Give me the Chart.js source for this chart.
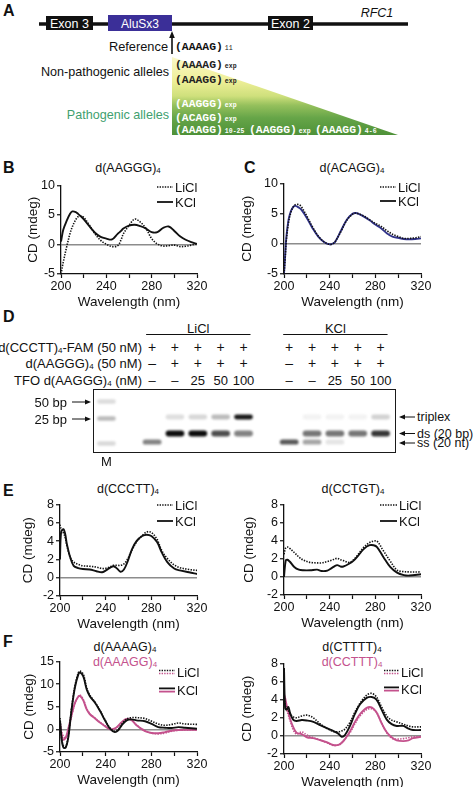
<!DOCTYPE html>
<html>
<head>
<meta charset="utf-8">
<script src="https://cdn.jsdelivr.net/npm/chart.js@4.4.1/dist/chart.umd.min.js"></script>
<style>
html, body { margin: 0; padding: 0; background: #fff; }
body { width: 474px; height: 787px; position: relative; overflow: hidden; font-family: "Liberation Sans", Arial, sans-serif; color: #111; }
.t { position: absolute; white-space: nowrap; line-height: 1; font-size: 13px; }
.lbl { font-weight: bold; font-size: 16px; }
canvas { position: absolute; }
sub { font-size: 8px; vertical-align: -1px; line-height: 0; }
#gelBox { position: absolute; left: 93px; top: 389px; width: 303px; height: 64px; border: 1.6px solid #1a1a1a; box-sizing: border-box; }
</style>
</head>
<body>
<svg id="diagram" width="474" height="140" style="position:absolute;left:0;top:0" font-family="Liberation Sans, Arial, sans-serif">
  <defs>
    <linearGradient id="tri" x1="0" y1="0" x2="0" y2="1">
      <stop offset="0" stop-color="#faf8c8"/>
      <stop offset="0.3" stop-color="#efef98"/>
      <stop offset="0.5" stop-color="#cfe07c"/>
      <stop offset="0.62" stop-color="#95c05c"/>
      <stop offset="0.78" stop-color="#66a548"/>
      <stop offset="1" stop-color="#4e9138"/>
    </linearGradient>
  </defs>
  <text x="3" y="16" font-size="16" font-weight="bold" fill="#111">A</text>
  <line x1="39" y1="24" x2="408" y2="24" stroke="#111" stroke-width="3.5"/>
  <rect x="46" y="16" width="47" height="14" fill="#111"/>
  <text x="69.5" y="28" font-size="12.5" fill="#fff" text-anchor="middle">Exon 3</text>
  <rect x="108" y="15" width="64" height="16" fill="#3b2f98"/>
  <text x="140" y="28" font-size="12" fill="#fff" text-anchor="middle">AluSx3</text>
  <rect x="268" y="16" width="45" height="14" fill="#111"/>
  <text x="290.5" y="28" font-size="12.5" fill="#fff" text-anchor="middle">Exon 2</text>
  <text x="377" y="16.5" font-size="12.5" font-style="italic" fill="#111" text-anchor="middle">RFC1</text>
  <line x1="172" y1="54" x2="172" y2="36" stroke="#111" stroke-width="1.6"/>
  <polygon points="172,31 169.2,38 174.8,38" fill="#111"/>
  <text x="168" y="50.5" font-size="12.8" fill="#111" text-anchor="end">Reference</text>
  <text x="175" y="50" font-size="11.4" font-weight="bold" font-family="Liberation Mono, Courier New, monospace" fill="#111">(AAAAG)<tspan font-size="6.5" dx="2" font-weight="normal">11</tspan></text>
  <polygon points="172,57 172,135 398,135" fill="url(#tri)"/>
  <text x="169" y="75.5" font-size="12.6" fill="#111" text-anchor="end">Non-pathogenic alleles</text>
  <text x="169" y="118.5" font-size="12.6" fill="#3f9f6f" text-anchor="end">Pathogenic alleles</text>
  <g font-family="Liberation Mono, Courier New, monospace" font-weight="bold" font-size="11.4">
    <text x="175" y="68" fill="#222">(AAAAG)<tspan font-size="6.5" dx="2">exp</tspan></text>
    <text x="175" y="83" fill="#222">(AAAGG)<tspan font-size="6.5" dx="2">exp</tspan></text>
    <text x="175" y="107" fill="#fff">(AAGGG)<tspan font-size="6.5" dx="2">exp</tspan></text>
    <text x="175" y="121" fill="#fff">(ACAGG)<tspan font-size="6.5" dx="2">exp</tspan></text>
    <text x="175" y="132.5" fill="#fff">(AAAGG)<tspan font-size="6.5" dx="2">10-25</tspan></text>
    <text x="249" y="132.5" fill="#fff">(AAGGG)<tspan font-size="6.5" dx="2">exp</tspan></text>
    <text x="315" y="132.5" fill="#fff">(AAAGG)<tspan font-size="6.5" dx="2">4-6</tspan></text>
  </g>
</svg>
<div id="gelBox"></div>

<script>
const $ = (id) => document.getElementById(id);
Chart.defaults.font.family = '"Liberation Sans", Arial, sans-serif';
Chart.defaults.color = '#111';

const INK = '#111', PINK = '#c4528d', NAVY = '#31338a';

// ----- B: d(AAGGG)4 -----
const wlB = [200, 202, 205, 208, 210, 213, 215, 218, 220, 225, 230, 235, 240, 245, 250, 253, 255, 260, 265, 270, 275, 280, 285, 290, 295, 300, 305, 310, 315, 320];
const bLiCl = [-5, -3, -0.4, 1.9, 3.0, 4.2, 4.7, 4.8, 4.6, 3.3, 1.8, 0.7, 0.05, -0.35, -0.2, 0.8, 1.8, 3.2, 4.3, 3.8, 2.7, 1.0, 0.1, -0.25, -0.2, -0.1, -0.35, -0.3, -0.1, 0.15];
const bKCl = [0.5, 2.5, 4.0, 5.2, 5.6, 5.5, 5.2, 4.7, 4.3, 3.1, 2.0, 1.3, 1.0, 0.85, 1.8, 2.3, 2.7, 3.2, 3.35, 3.1, 2.7, 2.1, 2.1, 2.8, 3.05, 2.3, 1.4, 0.8, 0.4, 0.1];

// ----- C: d(ACAGG)4 -----
const wlC = [200, 201, 202, 204, 206, 208, 210, 213, 215, 220, 225, 230, 235, 240, 243, 245, 250, 255, 260, 263, 265, 270, 275, 280, 285, 290, 295, 300, 305, 310, 315, 320];
const cLiCl = [-5, -2.5, 0.5, 3.6, 5.2, 6.1, 6.5, 6.5, 6.2, 4.6, 2.8, 1.3, 0.35, -0.1, 0.05, 0.4, 2.1, 3.9, 4.9, 5.1, 5.0, 4.6, 4.0, 3.4, 2.9, 2.2, 1.6, 1.2, 0.9, 0.9, 1.0, 1.2];
const cKCl = [-5, -2, 1.0, 4.0, 5.4, 6.1, 6.3, 6.0, 5.7, 4.3, 2.6, 1.2, 0.3, -0.1, 0.05, 0.4, 2.2, 4.0, 5.0, 5.1, 5.0, 4.5, 3.9, 3.2, 2.6, 1.75, 1.2, 1.0, 0.8, 0.75, 0.8, 0.9];

// ----- E left: d(CCCTT)4 -----
const wlE1 = [200, 201, 203, 204.5, 206, 209, 212, 216, 220, 226, 232, 237, 241, 244, 247, 250, 253, 256, 259, 263, 267, 272, 276, 280, 285, 289, 294, 300, 305, 313, 320];
const e1LiCl = [5.8, 5.3, 4.9, 4.4, 3.5, 2.2, 1.7, 1.45, 1.3, 1.25, 1.15, 1.0, 1.05, 1.2, 1.35, 1.35, 1.35, 1.5, 2.0, 3.0, 3.9, 4.6, 5.0, 4.95, 4.2, 3.0, 2.1, 1.4, 1.1, 0.9, 0.8];
const e1KCl = [2.0, 5.0, 5.3, 4.8, 3.7, 2.2, 1.3, 1.05, 0.95, 0.9, 0.7, 0.6, 0.85, 1.1, 1.25, 1.0, 0.65, 0.9, 1.7, 3.1, 4.0, 4.55, 4.7, 4.55, 3.9, 2.8, 1.7, 1.0, 0.8, 0.6, 0.4];

// ----- E right: d(CCTGT)4 -----
const wlE2 = [200, 201.5, 203, 205, 209, 213, 217, 223, 229, 233, 238, 242, 246.5, 249.5, 252, 257, 261, 265, 270, 275, 278.5, 281.5, 287, 293, 299, 305, 310, 320];
const e2LiCl = [2.5, 3.2, 3.3, 3.15, 2.7, 2.2, 1.85, 1.6, 1.55, 1.55, 1.7, 1.85, 2.05, 1.9, 1.8, 1.6, 1.9, 2.5, 3.3, 3.8, 3.95, 3.95, 2.9, 1.75, 0.75, 0.58, 0.55, 0.55];
const e2KCl = [0, 1.8, 1.9, 1.7, 1.1, 0.8, 0.73, 0.73, 0.8, 0.65, 0.7, 1.0, 1.3, 1.15, 1.15, 1.45, 1.8, 2.35, 3.1, 3.5, 3.5, 3.3, 2.2, 1.1, 0.47, 0.2, 0.15, 0.3];

// ----- F left: d(AAAAG)4 (black) / d(AAAGG)4 (pink) -----
const wlF1 = [200, 201.5, 203, 205, 207.3, 210, 213, 216, 217.5, 220.4, 223.4, 226, 230.7, 235, 239.4, 243.8, 248, 251, 254, 258.4, 262.8, 267, 274.5, 280.3, 286, 292, 297.8, 303.7, 309.5, 320];
const f1AgLiCl = [2.5, -2.0, -3.6, -3.8, -1.5, 4.3, 9.5, 12.5, 12.9, 12.2, 9.2, 7.6, 6.0, 4.2, 2.1, 0.3, -0.4, 0, 1.1, 2.3, 2.6, 2.6, 2.4, 1.8, 1.2, 0.9, 1.1, 1.4, 1.2, 1.1];
const f1AgKCl = [2.0, -2.4, -4.0, -4.0, -1.7, 4.1, 9.2, 12.1, 12.6, 11.7, 8.8, 7.4, 5.9, 4.1, 2.0, 0.15, -0.6, -0.2, 0.9, 2.0, 2.2, 2.0, 1.8, 1.2, 0.5, 0.36, 0.3, 0.5, 0.36, 0.15];
const f1GgLiCl = [0.5, -0.6, -1.5, -2.0, -0.3, 2.8, 5.7, 7.3, 7.6, 6.6, 4.6, 3.5, 2.5, 1.6, 0.8, 0.1, 0.1, 0.7, 1.5, 2.3, 2.2, 1.0, -0.3, -0.8, -1.0, -0.8, -0.4, -0.2, -0.15, -0.1];
const f1GgKCl = [1.6, -1.3, -2.3, -1.8, 0.2, 3.0, 5.8, 7.2, 7.4, 6.4, 4.4, 3.4, 2.4, 1.5, 0.7, 0, 0.2, 0.8, 1.6, 2.3, 2.0, 0.9, -0.4, -0.8, -0.85, -0.6, -0.3, -0.15, -0.1, -0.1];

// ----- F right: d(CTTTT)4 (black) / d(CCTTT)4 (pink) -----
const wlF2 = [200, 201, 202.3, 203.8, 205.3, 208, 211, 215.5, 220, 225.7, 231.5, 237.4, 243, 247.6, 250.5, 253.4, 257.8, 262, 266.6, 272.4, 276.8, 281, 285.5, 290, 294.3, 298.7, 304.5, 309, 313, 320];
const f2TLiCl = [4.5, 3.5, 3.0, 2.8, 2.4, 2.1, 2.0, 2.2, 2.3, 2.0, 1.35, 0.85, 0.5, 0.45, 0.55, 0.75, 1.5, 2.6, 3.6, 4.5, 4.7, 4.3, 3.2, 2.2, 1.75, 1.55, 1.3, 1.1, 1.0, 1.0];
const f2TKCl = [7.5, 3.1, 2.9, 3.2, 2.55, 1.8, 1.65, 1.75, 1.7, 1.55, 1.2, 0.85, 0.55, 0.25, -0.1, 0.1, 1.1, 2.4, 3.5, 4.2, 4.3, 4.0, 2.9, 1.8, 1.3, 1.1, 1.1, 0.8, 0.65, 0.65];
const f2CLiCl = [4.0, 3.6, 2.9, 2.3, 1.7, 0.7, 0.2, 0.45, 0.1, -0.2, -0.45, -0.75, -1.05, -1.0, -0.8, -0.35, 0.35, 1.3, 2.2, 2.9, 3.0, 2.6, 1.4, 0.35, -0.25, -0.35, -0.3, -0.2, -0.1, -0.1];
const f2CKCl = [4.6, 4.2, 3.4, 2.7, 1.9, 1.0, 0.35, 0.2, -0.15, -0.25, -0.45, -0.7, -1.0, -1.0, -0.75, -0.35, 0.5, 1.5, 2.4, 3.1, 3.15, 2.6, 1.4, 0.4, -0.15, -0.5, -0.58, -0.5, -0.25, -0.1];

// ----- D: gel -----
const gelLanes = ['M', '', 'L1', 'L2', 'L3', 'L4', 'L5', '', 'K1', 'K2', 'K3', 'K4', 'K5'];
const triplexInt = [0, 0, 0, 0.11, 0.14, 0.26, 0.95, 0, 0, 0.025, 0.025, 0.025, 0.16];
const dsInt = [0, 0, 0, 1, 1, 0.72, 0.5, 0, 0, 0.55, 0.55, 0.55, 0.82];
const ssInt = [0, 0, 0.5, 0, 0, 0, 0, 0, 0.68, 0.35, 0.08, 0, 0];
const markerInt = [0.12, 0.26, 0.13];         // 50 bp, 25 bp, lowest marker band
const markerMig = [10.5, 27.5, 52.5];         // migration (arbitrary units, 0 = well)
const triplexMig = 26, dsMig = 42.5, ssMig = 51;
const faRow = ['+', '+', '+', '+', '+'];
const agRow = ['–', '+', '+', '+', '+'];
const tfoRow = ['–', '–', '25', '50', '100'];

// ----- helpers -----
let art = '';
function put(x, y, html, align, cls, style) {
  const d = document.createElement('div');
  d.className = 't ' + (cls || '');
  d.innerHTML = html;
  d.style.left = x + 'px'; d.style.top = y + 'px';
  const tx = align === 'r' ? '-100%' : align === 'c' ? '-50%' : '0';
  d.style.transform = 'translate(' + tx + ',-50%)';
  if (style) Object.assign(d.style, style);
  document.body.appendChild(d);
}
function legend(x1, x2, yL, yK, cols) {
  const n = cols.length;
  cols.forEach((c, i) => {
    const off = n > 1 ? (i === 0 ? -1.6 : 1.6) : 0;
    art += `<line x1="${x1}" y1="${yL + off}" x2="${x2}" y2="${yL + off}" stroke="${c}" stroke-width="1.5" stroke-dasharray="1.4 1.2"/>`;
    art += `<line x1="${x1}" y1="${yK + off}" x2="${x2}" y2="${yK + off}" stroke="${c}" stroke-width="1.8"/>`;
  });
  put(x2 + 2, yL, 'LiCl', 'l', '', { fontSize: '13px' });
  put(x2 + 2, yK, 'KCl', 'l', '', { fontSize: '13px' });
}
function cdChart(p, titleX, yr, wl, series) {
  const left = titleX - 12, top = p.t - 8, right = p.r + 12, bottom = p.b + 36;
  const cv = document.createElement('canvas');
  cv.width = right - left; cv.height = bottom - top;
  cv.style.left = left + 'px'; cv.style.top = top + 'px';
  document.body.appendChild(cv);
  return new Chart(cv, {
    type: 'line',
    data: {
      datasets: series.map(s => ({
        data: wl.map((w, i) => ({ x: w, y: s.v[i] })),
        borderColor: s.c, borderWidth: s.dash ? 1.6 : 1.9,
        borderDash: s.dash ? [1.4, 1.3] : [],
        pointRadius: 0, tension: 0.35, fill: false
      }))
    },
    options: {
      responsive: false, animation: false, events: [],
      layout: { padding: { top: 8, right: 12, left: 0, bottom: 0 } },
      plugins: { legend: { display: false }, tooltip: { enabled: false } },
      scales: {
        x: {
          type: 'linear', min: 200, max: 320,
          afterFit: s => { s.height = 36; },
          ticks: { stepSize: 20, autoSkip: false, maxRotation: 0, padding: 1, font: { size: 12.5 }, callback: v => (v % 40 === 0 ? v : '') },
          grid: { drawOnChartArea: false, tickLength: 4, tickColor: INK, tickWidth: 1.2 },
          border: { color: INK, width: 1.3 },
          title: { display: true, text: 'Wavelength (nm)', font: { size: 13.5 }, padding: 0 }
        },
        y: {
          min: yr[0], max: yr[1],
          afterFit: s => { s.width = p.l - left; },
          ticks: { stepSize: yr[2], padding: 2, font: { size: 12.5 } },
          grid: {
            color: c => (c.tick && c.tick.value === 0 ? '#8c8c8c' : 'rgba(0,0,0,0)'),
            lineWidth: 1.5, tickLength: 4, tickColor: INK, tickWidth: 1.2
          },
          border: { color: INK, width: 1.3 },
          title: { display: true, text: 'CD (mdeg)', font: { size: 13.5 }, padding: { top: 4, bottom: 0 } }
        }
      }
    }
  });
}

// ----- panel letters and titles -----
put(3, 168, 'B', 'l', 'lbl');
put(244, 168, 'C', 'l', 'lbl');
put(3, 317, 'D', 'l', 'lbl');
put(3, 491, 'E', 'l', 'lbl');
put(3, 642, 'F', 'l', 'lbl');
put(128, 168, 'd(AAGGG)<sub>4</sub>', 'c', '', { fontSize: '12.5px' });
put(352, 168, 'd(ACAGG)<sub>4</sub>', 'c', '', { fontSize: '12.5px' });
put(128, 489, 'd(CCCTT)<sub>4</sub>', 'c', '', { fontSize: '12.5px' });
put(353, 489, 'd(CCTGT)<sub>4</sub>', 'c', '', { fontSize: '12.5px' });
put(125, 647, 'd(AAAAG)<sub>4</sub>', 'c', '', { fontSize: '12.5px' });
put(125, 662, 'd(AAAGG)<sub>4</sub>', 'c', '', { fontSize: '12.5px', color: PINK });
put(352, 647, 'd(CTTTT)<sub>4</sub>', 'c', '', { fontSize: '12.5px' });
put(352, 662, 'd(CCTTT)<sub>4</sub>', 'c', '', { fontSize: '12.5px', color: PINK });

// ----- CD charts -----
cdChart({ l: 61, r: 197, t: 184, b: 274 }, 33, [-5, 10, 5], wlB,
  [{ v: bLiCl, c: INK, dash: true }, { v: bKCl, c: INK }]);
cdChart({ l: 284, r: 421, t: 182, b: 274 }, 247, [-5, 10, 5], wlC,
  [{ v: cLiCl, c: INK, dash: true }, { v: cKCl, c: NAVY }]);
cdChart({ l: 60, r: 197, t: 503, b: 596 }, 28, [-2, 8, 2], wlE1,
  [{ v: e1LiCl, c: INK, dash: true }, { v: e1KCl, c: INK }]);
cdChart({ l: 284, r: 421, t: 503, b: 595 }, 249, [-2, 8, 2], wlE2,
  [{ v: e2LiCl, c: INK, dash: true }, { v: e2KCl, c: INK }]);
cdChart({ l: 60, r: 197, t: 660, b: 752 }, 29, [-5, 15, 5], wlF1,
  [{ v: f1AgLiCl, c: INK, dash: true }, { v: f1AgKCl, c: INK }, { v: f1GgLiCl, c: PINK, dash: true }, { v: f1GgKCl, c: PINK }]);
cdChart({ l: 284, r: 421, t: 662, b: 754 }, 247, [-2, 8, 2], wlF2,
  [{ v: f2TLiCl, c: INK, dash: true }, { v: f2TKCl, c: INK }, { v: f2CLiCl, c: PINK, dash: true }, { v: f2CKCl, c: PINK }]);

legend(157, 173, 187, 202, [INK]);
legend(380, 396, 187, 201, [INK]);
legend(157, 173, 505, 521, [INK]);
legend(380, 397, 505, 521, [INK]);
legend(159, 175, 672, 690, [INK, PINK]);
legend(384, 399, 672, 689, [INK, PINK]);

// ----- gel (floating bars) -----
const gray = (t) => { const v = Math.round(248 - 236 * t); return `rgb(${v},${v},${v})`; };
function bands(ints, mig, half) {
  return {
    data: ints.map(t => (t > 0 ? [mig - half, mig + half] : null)),
    backgroundColor: ints.map(gray)
  };
}
const gelCv = document.createElement('canvas');
gelCv.width = 297; gelCv.height = 62;
gelCv.style.left = '95px'; gelCv.style.top = '391px';
gelCv.style.filter = 'blur(0.8px)';
document.body.appendChild(gelCv);
const markerSets = markerMig.map((m, k) => bands(gelLanes.map((l, i) => (i === 0 ? markerInt[k] : 0)), m, 2.3));
const gel = new Chart(gelCv, {
  type: 'bar',
  data: {
    labels: gelLanes,
    datasets: [bands(triplexInt, triplexMig, 2.4), bands(dsInt, dsMig, 3), bands(ssInt, ssMig, 2.6), ...markerSets]
      .map(d => Object.assign(d, { grouped: false, barPercentage: 0.82, categoryPercentage: 1, borderRadius: 3, borderSkipped: false }))
  },
  options: {
    responsive: false, animation: false, events: [],
    layout: { padding: 0 },
    plugins: { legend: { display: false }, tooltip: { enabled: false } },
    scales: {
      x: { display: false, offset: true },
      y: { display: false, min: 0, max: 62, reverse: true }
    }
  }
});
const laneX = (i) => 95 + gel.scales.x.getPixelForValue(i);

// ----- gel annotations -----
[[2, 6, 'LiCl'], [8, 12, 'KCl']].forEach(([a, b, name]) => {
  const x1 = laneX(a) - 6, x2 = laneX(b) + 7;
  art += `<line x1="${x1}" y1="334.5" x2="${x2}" y2="334.5" stroke="${INK}" stroke-width="1"/>`;
  put((x1 + x2) / 2, 328, name, 'c');
  for (let k = 0; k < 5; k++) {
    put(laneX(a + k), 347, faRow[k], 'c', '', { fontSize: '14px' });
    put(laneX(a + k), 363, agRow[k], 'c', '', { fontSize: '14px' });
    put(laneX(a + k), 380, tfoRow[k], 'c', '', { fontSize: '13px' });
  }
});
put(142, 347, 'd(CCCTT)<sub>4</sub>-FAM (50 nM)', 'r');
put(142, 363, 'd(AAGGG)<sub>4</sub> (50 nM)', 'r');
put(142, 380, 'TFO d(AAGGG)<sub>4</sub> (nM)', 'r');
put(laneX(0), 461, 'M', 'c');
[[402, '50 bp'], [419, '25 bp']].forEach(([y, s]) => {
  put(67, y, s, 'r');
  art += `<line x1="72" y1="${y}" x2="87" y2="${y}" stroke="${INK}" stroke-width="1"/><polygon points="91,${y} 85,${y - 2.5} 85,${y + 2.5}" fill="${INK}"/>`;
});
[[417, 'triplex'], [433.5, 'ds (20 bp)'], [443, 'ss (20 nt)']].forEach(([y, s]) => {
  art += `<line x1="403" y1="${y}" x2="415" y2="${y}" stroke="${INK}" stroke-width="1"/><polygon points="399,${y} 405,${y - 2.5} 405,${y + 2.5}" fill="${INK}"/>`;
  put(417, y, s, 'l', '', { fontSize: '12.5px' });
});

const ov = document.createElementNS('http://www.w3.org/2000/svg', 'svg');
ov.setAttribute('width', 474); ov.setAttribute('height', 787);
ov.style.position = 'absolute'; ov.style.left = '0'; ov.style.top = '0'; ov.style.pointerEvents = 'none';
ov.innerHTML = art;
document.body.appendChild(ov);
</script>
</body>
</html>
